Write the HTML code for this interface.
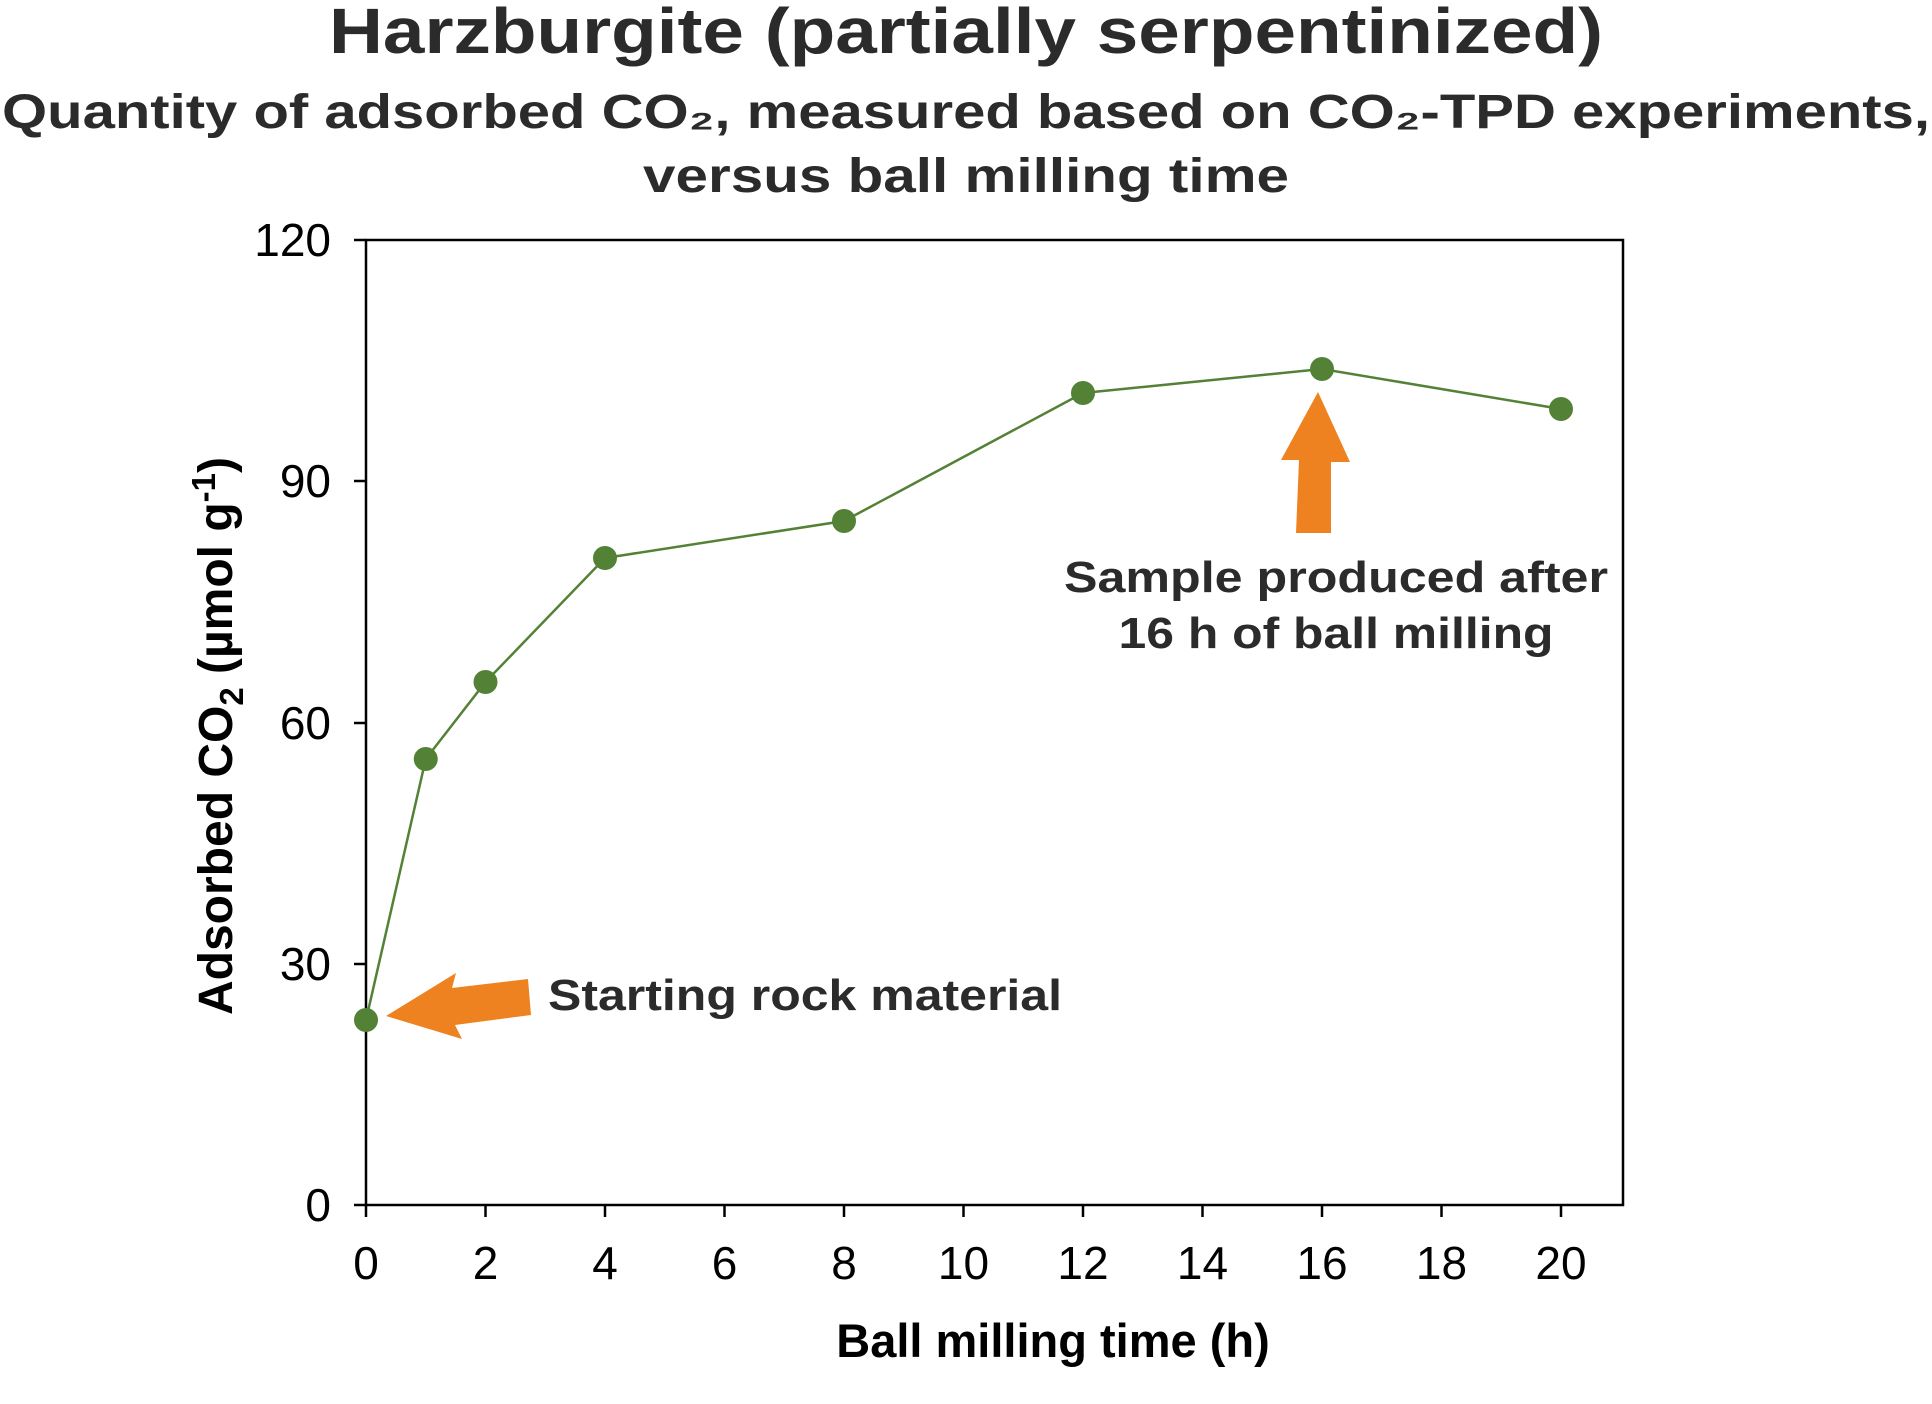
<!DOCTYPE html>
<html><head><meta charset="utf-8"><style>html,body{margin:0;padding:0;background:#fff}svg{display:block}</style></head>
<body>
<svg width="1932" height="1404" viewBox="0 0 1932 1404" xmlns="http://www.w3.org/2000/svg" font-family="Liberation Sans, Arial, sans-serif">
<rect width="1932" height="1404" fill="#fff"/>
<g fill="#2b2b2b" font-weight="bold" text-anchor="middle">
<text x="966" y="53" font-size="64" textLength="1274" lengthAdjust="spacingAndGlyphs">Harzburgite (partially serpentinized)</text>
<text x="966" y="128" font-size="48" textLength="1928" lengthAdjust="spacingAndGlyphs">Quantity of adsorbed CO₂, measured based on CO₂-TPD experiments,</text>
<text x="966" y="192" font-size="48" textLength="646" lengthAdjust="spacingAndGlyphs">versus ball milling time</text>
</g>
<rect x="366" y="240" width="1257" height="965" fill="none" stroke="#000" stroke-width="2.5"/>
<g stroke="#000" stroke-width="2.5">
<line x1="354" y1="240" x2="366" y2="240"/><line x1="354" y1="481" x2="366" y2="481"/><line x1="354" y1="723" x2="366" y2="723"/><line x1="354" y1="964" x2="366" y2="964"/><line x1="354" y1="1205" x2="366" y2="1205"/>
<line x1="366" y1="1205" x2="366" y2="1217"/><line x1="485.5" y1="1205" x2="485.5" y2="1217"/><line x1="605" y1="1205" x2="605" y2="1217"/><line x1="724.5" y1="1205" x2="724.5" y2="1217"/><line x1="844" y1="1205" x2="844" y2="1217"/><line x1="963.5" y1="1205" x2="963.5" y2="1217"/><line x1="1083" y1="1205" x2="1083" y2="1217"/><line x1="1202.5" y1="1205" x2="1202.5" y2="1217"/><line x1="1322" y1="1205" x2="1322" y2="1217"/><line x1="1441.5" y1="1205" x2="1441.5" y2="1217"/><line x1="1561" y1="1205" x2="1561" y2="1217"/>
</g>
<g font-size="46" fill="#000" text-anchor="end">
<text x="331" y="256">120</text><text x="331" y="497">90</text><text x="331" y="739">60</text><text x="331" y="980">30</text><text x="331" y="1221">0</text>
</g>
<g font-size="46" fill="#000" text-anchor="middle">
<text x="366" y="1279">0</text><text x="485.5" y="1279">2</text><text x="605" y="1279">4</text><text x="724.5" y="1279">6</text><text x="844" y="1279">8</text><text x="963.5" y="1279">10</text><text x="1083" y="1279">12</text><text x="1202.5" y="1279">14</text><text x="1322" y="1279">16</text><text x="1441.5" y="1279">18</text><text x="1561" y="1279">20</text>
</g>
<text x="1053" y="1357" font-size="47" font-weight="bold" text-anchor="middle" fill="#000">Ball milling time (h)</text>
<text transform="translate(232,736) rotate(-90)" font-size="48" font-weight="bold" text-anchor="middle" fill="#000">Adsorbed CO<tspan font-size="33" dy="11">2</tspan><tspan dy="-11"> (µmol g</tspan><tspan font-size="33" dy="-17">-1</tspan><tspan dy="17">)</tspan></text>
<polyline fill="none" stroke="#538135" stroke-width="2.5" points="366,1020 425.75,759 485.5,682 605,558 844,521 1083,393 1322,369 1561,409"/>
<g fill="#538135">
<circle cx="366" cy="1020" r="12"/><circle cx="425.75" cy="759" r="12"/><circle cx="485.5" cy="682" r="12"/><circle cx="605" cy="558" r="12"/><circle cx="844" cy="521" r="12"/><circle cx="1083" cy="393" r="12"/><circle cx="1322" cy="369" r="12"/><circle cx="1561" cy="409" r="12"/>
</g>
<polygon fill="#ef8220" points="386,1016 456,973 452,988 528,979 531,1015 455,1025 462,1039"/>
<polygon fill="#ef8220" points="1318,392 1350,462 1331,462 1331,533 1296,533 1299,460 1281,460"/>
<g fill="#2b2b2b" font-weight="bold" font-size="44">
<text x="548" y="1010" textLength="514" lengthAdjust="spacingAndGlyphs">Starting rock material</text>
<text x="1336" y="592" text-anchor="middle" textLength="544" lengthAdjust="spacingAndGlyphs">Sample produced after</text>
<text x="1336" y="648" text-anchor="middle" textLength="435" lengthAdjust="spacingAndGlyphs">16 h of ball milling</text>
</g>
</svg>
</body></html>
